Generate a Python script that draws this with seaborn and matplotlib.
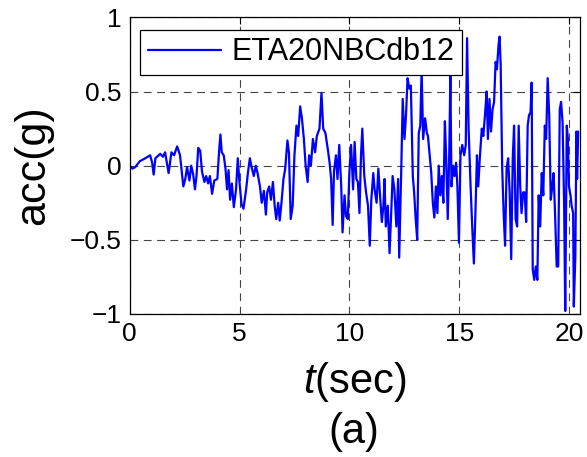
import numpy as np
import pandas as pd
import matplotlib
matplotlib.use('Agg')
import matplotlib.pyplot as plt
import seaborn as sns

# acceleration record (peaks / troughs)
t_0_5 = [0.00, 0.12, 0.25, 0.46, 0.71, 0.93, 1.02, 1.09, 1.17, 1.39, 1.51, 1.61,
         1.77, 1.90, 2.02, 2.16, 2.29, 2.44, 2.53, 2.61, 2.72, 2.80, 2.89, 2.97,
         3.04, 3.12, 3.21, 3.29, 3.40, 3.48, 3.57, 3.65, 3.75, 3.85, 3.99, 4.07,
         4.13, 4.19, 4.28, 4.36, 4.43, 4.50, 4.57, 4.65, 4.74, 4.84, 4.92, 4.99]
acc_0_5 = [0.00, -0.02, -0.01, 0.03, 0.05, 0.07, 0.02, -0.06, 0.05, 0.08, 0.06, 0.09,
           -0.05, 0.09, 0.07, 0.13, 0.07, -0.14, -0.09, -0.01, -0.10, 0.00, -0.06, -0.16,
           -0.07, 0.12, 0.10, -0.04, -0.11, -0.07, -0.12, -0.07, -0.19, -0.10, -0.09, 0.10,
           0.21, 0.09, 0.07, -0.02, -0.16, -0.03, -0.23, -0.12, -0.28, -0.16, 0.05, -0.10]

t_5_10 = [5.09, 5.18, 5.30, 5.38, 5.47, 5.55, 5.65, 5.74, 5.82, 5.93, 6.01, 6.11,
          6.20, 6.26, 6.35, 6.43, 6.52, 6.60, 6.67, 6.76, 6.83, 6.91, 7.00, 7.08,
          7.18, 7.25, 7.33, 7.42, 7.50, 7.59, 7.67, 7.76, 7.84, 7.93, 8.01, 8.10,
          8.17, 8.25, 8.34, 8.44, 8.52, 8.64, 8.73, 8.81, 8.91, 9.02, 9.10, 9.17,
          9.24, 9.30, 9.39, 9.46, 9.54, 9.63, 9.69, 9.78, 9.85, 9.93]
acc_5_10 = [-0.26, -0.29, -0.16, -0.05, 0.05, -0.01, -0.07, 0.00, -0.05, -0.14, -0.25, -0.17,
            -0.33, -0.18, -0.14, -0.23, -0.11, -0.27, -0.36, -0.25, -0.37, -0.25, -0.09, -0.02,
            0.17, 0.09, -0.36, -0.27, 0.07, 0.27, 0.20, 0.40, 0.32, 0.18, 0.00, -0.11,
            0.07, 0.00, 0.18, 0.09, 0.20, 0.25, 0.49, 0.25, 0.22, 0.11, 0.02, -0.09,
            -0.40, -0.04, 0.07, -0.09, 0.14, -0.14, -0.45, -0.20, -0.34, -0.36]

t_10_15 = [10.00, 10.08, 10.17, 10.24, 10.32, 10.39, 10.46, 10.53, 10.59, 10.68,
           10.76, 10.85, 10.93, 11.00, 11.09, 11.15, 11.24, 11.32, 11.41, 11.48,
           11.55, 11.60, 11.66, 11.75, 11.83, 11.90, 11.97, 12.05, 12.14, 12.22,
           12.27, 12.36, 12.43, 12.51, 12.58, 12.65, 12.73, 12.80, 12.89, 12.95,
           13.02, 13.09, 13.16, 13.23, 13.29, 13.36, 13.45, 13.53, 13.58, 13.67,
           13.73, 13.80, 13.87, 13.94, 14.01, 14.07, 14.14, 14.21, 14.28, 14.35,
           14.41, 14.48, 14.55, 14.60, 14.65, 14.72, 14.79, 14.86, 14.92, 14.99]
acc_10_15 = [-0.05, 0.14, -0.16, 0.16, -0.09, -0.11, -0.32, 0.07, 0.25, -0.07,
             -0.18, -0.27, -0.54, -0.23, -0.05, -0.16, -0.25, -0.02, -0.23, -0.38,
             -0.27, -0.09, -0.41, -0.27, -0.59, -0.34, -0.07, -0.16, -0.41, -0.09,
             -0.62, -0.05, 0.45, 0.18, 0.34, 0.59, 0.52, 0.54, -0.07, -0.18,
             -0.36, -0.50, 0.22, 0.27, 0.65, 0.18, 0.32, 0.22, 0.20, 0.05,
             -0.05, -0.25, -0.35, -0.14, -0.32, 0.00, -0.20, -0.07, -0.25, 0.30,
             0.05, -0.36, 0.09, 0.61, -0.14, 0.00, -0.07, 0.02, -0.14, -0.52]

t_15_end = [15.06, 15.14, 15.23, 15.30, 15.36, 15.43, 15.52, 15.60, 15.67, 15.74,
            15.81, 15.87, 15.94, 16.03, 16.10, 16.18, 16.25, 16.31, 16.38, 16.45,
            16.52, 16.59, 16.66, 16.72, 16.79, 16.84, 16.89, 16.96, 17.03, 17.09,
            17.16, 17.23, 17.30, 17.37, 17.44, 17.50, 17.57, 17.64, 17.71, 17.78,
            17.84, 17.91, 17.98, 18.05, 18.12, 18.18, 18.25, 18.30, 18.35, 18.42,
            18.49, 18.56, 18.62, 18.69, 18.76, 18.83, 18.90, 18.96, 19.03, 19.10,
            19.17, 19.24, 19.30, 19.37, 19.44, 19.51, 19.58, 19.64, 19.71, 19.78,
            19.83, 19.90, 19.95, 20.00, 20.07, 20.12, 20.19, 20.22, 20.29, 20.34,
            20.37, 20.42]
acc_15_end = [0.07, 0.14, 0.07, 0.14, 0.86, 0.25, -0.14, -0.43, -0.66, -0.32,
              0.07, -0.14, 0.05, 0.25, 0.20, 0.35, 0.50, 0.18, 0.45, 0.23,
              0.38, 0.43, 0.70, 0.65, 0.81, 0.87, 0.68, -0.02, -0.34, -0.54,
              -0.02, 0.05, -0.18, -0.63, 0.05, 0.27, -0.36, -0.41, 0.27, -0.14,
              -0.32, -0.18, -0.18, -0.38, 0.27, 0.34, 0.36, 0.56, -0.70, -0.77,
              -0.68, -0.77, -0.20, -0.41, -0.05, -0.20, 0.27, 0.18, 0.59, 0.34,
              -0.23, -0.14, -0.05, -0.34, -0.68, -0.68, 0.38, 0.43, 0.29, -0.27,
              -0.98, 0.27, 0.18, -0.14, -0.20, -0.27, -0.32, -0.95, -0.61, 0.23,
              -0.09, 0.23]

x_ticks = [0, 5, 10, 15, 20]
y_ticks = [-1, -0.5, 0, 0.5, 1]
y_ticklabels = ['\u22121', '\u22120.5', '0', '0.5', '1']
record_name = 'ETA20NBCdb12'

df = pd.DataFrame({
    't': t_0_5 + t_5_10 + t_10_15 + t_15_end,
    'acc': acc_0_5 + acc_5_10 + acc_10_15 + acc_15_end,
})

sns.set_style('white')
plt.rcParams['font.family'] = ['Liberation Sans', 'DejaVu Sans']
plt.rcParams['mathtext.fontset'] = 'custom'
plt.rcParams['mathtext.rm'] = 'Liberation Sans'
plt.rcParams['mathtext.it'] = 'Liberation Sans:italic'
plt.rcParams['text.color'] = 'black'
plt.rcParams['axes.labelcolor'] = 'black'

fig = plt.figure(figsize=(5.87, 4.57), dpi=100)
ax = fig.add_axes([0.221, 0.313, 0.767, 0.649])

sns.lineplot(data=df, x='t', y='acc', ax=ax, color='#0000ff', lw=1.6,
             estimator=None, sort=False, label=record_name)

ax.set_xlim(0, 20.5)
ax.set_ylim(-1, 1)
ax.set_xticks(x_ticks)
ax.set_yticks(y_ticks)
ax.set_yticklabels(y_ticklabels)
ax.grid(True, ls=(0, (7, 5)), color='#444444', lw=0.8)
ax.tick_params(direction='in', top=True, right=True, length=5, width=0.8,
               labelsize=19, colors='black', pad=6)
for s in ax.spines.values():
    s.set_color('black')
    s.set_linewidth(0.9)

ax.set_xlabel('$t$(sec)', fontsize=30)
ax.set_ylabel('acc(g)', fontsize=31)
ax.xaxis.set_label_coords(0.5, -0.23)
ax.xaxis.label.set_va('center')
ax.yaxis.set_label_coords(-0.215, 0.5)
ax.yaxis.label.set_va('center')
fig.text(0.603, 0.055, '(a)', fontsize=30, ha='center', va='center')

leg = ax.legend(loc='upper left', bbox_to_anchor=(0.023, 0.958), borderaxespad=0,
                fontsize=22, frameon=True, fancybox=False, framealpha=1,
                edgecolor='black', handlelength=2.4, handletextpad=0.35,
                borderpad=0.25)
leg.get_frame().set_linewidth(0.9)

fig.savefig('out.png', dpi=100)
